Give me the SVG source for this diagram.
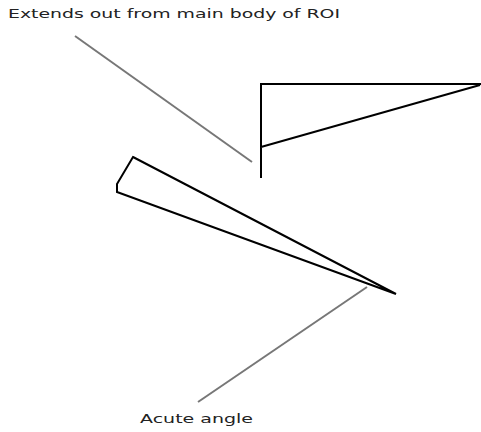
<svg xmlns="http://www.w3.org/2000/svg" width="481" height="432" viewBox="0 0 481 432">
<style>
.shape{fill:none;stroke:#000;stroke-width:2;stroke-linejoin:miter}
.lead{stroke:#777;stroke-width:2;fill:none}
.lbl{font-family:"DejaVu Sans","Liberation Sans",sans-serif;font-size:13px;fill:#222}
</style>
<rect width="481" height="432" fill="#fff"/>
<g id="protrusion">
<path class="shape" d="M261,178 V84 H481 M261,147 L480,85"/>
</g>
<g id="acute">
<polygon class="shape" points="133,157 396,294 117,192 117,184"/>
</g>
<g id="connectors">
<line class="lead" x1="75" y1="36" x2="252" y2="162"/>
<line class="lead" x1="367" y1="287" x2="198" y2="402"/>
</g>
<g id="label-top">
<text class="lbl" x="8" y="18" textLength="332" lengthAdjust="spacingAndGlyphs">Extends out from main body of ROI</text>
</g>
<g id="label-bottom">
<text class="lbl" x="140" y="423" textLength="113" lengthAdjust="spacingAndGlyphs">Acute angle</text>
</g>
</svg>
